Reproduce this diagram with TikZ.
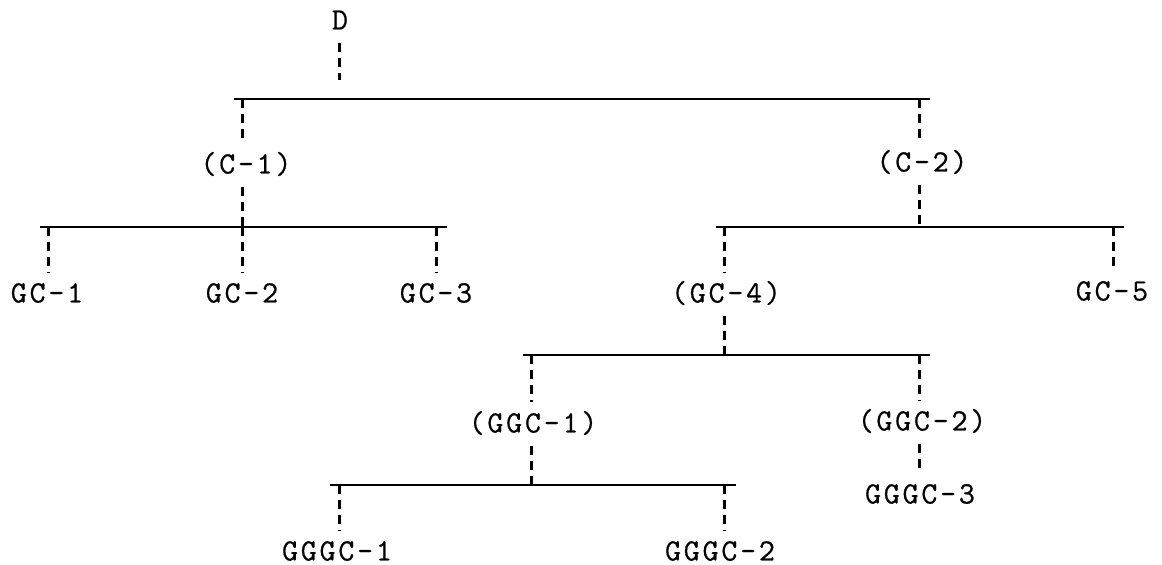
\documentclass[tikz,border=0pt]{standalone}
\usepackage{fontspec}
\newfontfamily\tw[LetterSpace=9,FakeBold=0.6]{Latin Modern Mono}
\begin{document}
\begin{tikzpicture}[x=0.5pt,y=-0.5pt,
  lbl/.style={font=\tw\fontsize{15.5}{18}\selectfont,
              inner xsep=1pt, inner ysep=5.5pt, text height=9.5pt, text depth=1pt},
  bar/.style={line width=1.1pt},
  link/.style={line width=1.5pt, dash pattern=on 4.5pt off 3pt}]
\useasboundingbox (0,0) rectangle (1162,565);
% labels
\node[lbl] (D) at (340,21) {D};
\node[lbl] (C1) at (246,165) {(C-1)};
\node[lbl] (C2) at (922,163) {(C-2)};
\node[lbl] (GC1) at (47,294) {GC-1};
\node[lbl] (GC2) at (242,294) {GC-2};
\node[lbl] (GC3) at (436,294) {GC-3};
\node[lbl] (GC4) at (726,294) {(GC-4)};
\node[lbl] (GC5) at (1112,292) {GC-5};
\node[lbl] (GGC1) at (533,424) {(GGC-1)};
\node[lbl] (GGC2) at (922,422) {(GGC-2)};
\node[lbl] (GGGC3) at (920,495) {GGGC-3};
\node[lbl] (GGGC1) at (337,552) {GGGC-1};
\node[lbl] (GGGC2) at (720,552) {GGGC-2};
% horizontal bars
\coordinate (b1l) at (234,99);  \coordinate (b1r) at (930,99);
\coordinate (b2l) at (40,227);  \coordinate (b2r) at (447,227);
\coordinate (b3l) at (716,227); \coordinate (b3r) at (1124,227);
\coordinate (b4l) at (523,355); \coordinate (b4r) at (930,355);
\coordinate (b5l) at (330,485); \coordinate (b5r) at (736,485);
\draw[bar] (b1l) -- (b1r);
\draw[bar] (b2l) -- (b2r);
\draw[bar] (b3l) -- (b3r);
\draw[bar] (b4l) -- (b4r);
\draw[bar] (b5l) -- (b5r);
% junction points on the bars
\coordinate (j1) at (339,99);
\coordinate (j1a) at (242,99);  \coordinate (j1b) at (919,99);
\coordinate (j2) at (242,227);
\coordinate (j2a) at (48,227);  \coordinate (j2b) at (242,227); \coordinate (j2c) at (436,227);
\coordinate (j3) at (919,227);
\coordinate (j3a) at (724,227); \coordinate (j3b) at (1113,227);
\coordinate (j4) at (724,355);
\coordinate (j4a) at (531,355); \coordinate (j4b) at (919,355);
\coordinate (j5) at (531,485);
\coordinate (j5a) at (339,485); \coordinate (j5b) at (724,485);
% connectors
\draw[link, shorten >=9.5pt] (D.south -| j1) -- (j1);
\draw[link] (j1a) -- (j1a |- C1.north);
\draw[link] (j1b) -- (j1b |- C2.north);
\draw[link] (C1.south -| j2) -- (j2);
\draw[link] (C2.south -| j3) -- (j3);
\draw[link] (j2a) -- (j2a |- GC1.north);
\draw[link] (j2b) -- (j2b |- GC2.north);
\draw[link] (j2c) -- (j2c |- GC3.north);
\draw[link] (j3a) -- (j3a |- GC4.north);
\draw[link] (j3b) -- (j3b |- GC5.north);
\draw[link] (GC4.south -| j4) -- (j4);
\draw[link] (j4a) -- (j4a |- GGC1.north);
\draw[link] (j4b) -- (j4b |- GGC2.north);
\draw[link] (GGC1.south -| j5) -- (j5);
\draw[link] (GGC2.south -| j4b) -- (j4b |- GGGC3.north);
\draw[link] (j5a) -- (j5a |- GGGC1.north);
\draw[link] (j5b) -- (j5b |- GGGC2.north);
\end{tikzpicture}
\end{document}
